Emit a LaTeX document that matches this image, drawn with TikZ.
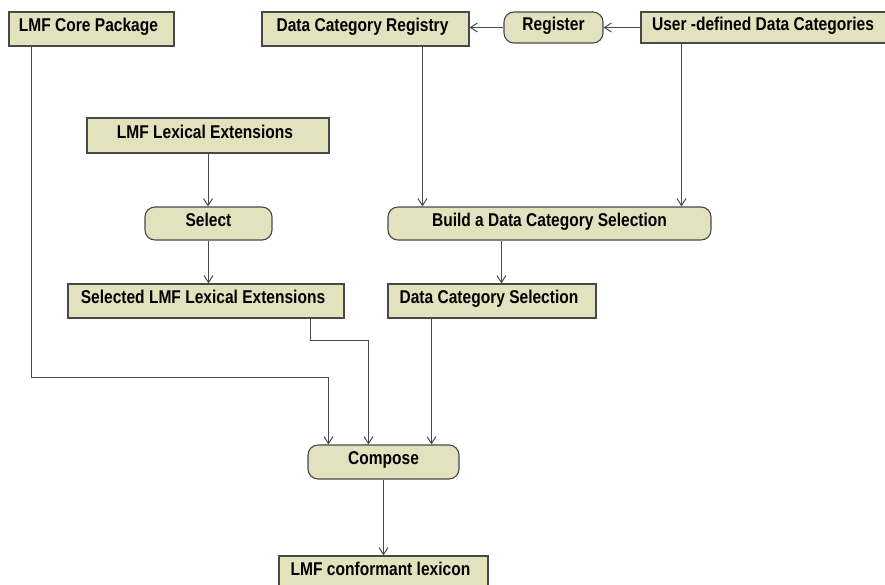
\documentclass[tikz,border=0pt]{standalone}
\usepackage{fontspec}
\setmainfont[FakeStretch=0.84]{Liberation Sans}
\usetikzlibrary{arrows.meta}
\definecolor{boxfill}{HTML}{E3E2BF}
\definecolor{boxline}{HTML}{484848}
\definecolor{conline}{HTML}{4A4A4A}
\tikzset{
  base/.style={draw=boxline, fill=boxfill, line width=1.1pt, inner sep=0pt,
    font=\fontsize{18.5}{20}\selectfont\bfseries, text=black,
    text height=11.5pt, text depth=6.5pt},
  objbox/.style={base, rectangle, execute at begin node={\hspace*{-6pt}}},
  actbox/.style={base, rectangle, rounded corners=10pt},
  conn/.style={draw=conline, line width=1pt, -{Straight Barb[length=7pt,width=9pt,line width=1pt]}}
}
\begin{document}
\begin{tikzpicture}[x=1pt,y=-1pt]
\useasboundingbox (0,0) rectangle (885,584);
\fill[white] (0,0) rectangle (885,584);

\node[objbox, minimum width=165pt, minimum height=34pt] (core) at (91.5,29) {LMF Core Package};
\node[objbox, minimum width=207pt, minimum height=34pt] (dcr) at (365.5,29) {Data Category Registry};
\node[actbox, minimum width=99pt, minimum height=31pt] (reg) at (553.5,27.5) {Register};
\node[objbox, minimum width=250pt, minimum height=31pt] (user) at (766,27.5) {User -defined Data Categories};
\node[objbox, minimum width=242pt, minimum height=35pt] (lex) at (208,135.5) {LMF Lexical Extensions};
\node[actbox, minimum width=127pt, minimum height=33pt] (select) at (208.5,223.5) {Select};
\node[objbox, minimum width=276pt, minimum height=34pt] (selected) at (206,301) {Selected LMF Lexical Extensions};
\node[actbox, minimum width=323pt, minimum height=33pt] (build) at (549.5,223.5) {Build a Data Category Selection};
\node[objbox, minimum width=208pt, minimum height=34pt] (dcs) at (492,301) {Data Category Selection};
\node[actbox, minimum width=151pt, minimum height=34pt] (compose) at (383.5,462) {Compose};
\node[objbox, minimum width=209pt, minimum height=34pt] (lexicon) at (383.5,573) {LMF conformant lexicon};

\coordinate (cin1) at ([xshift=21pt]compose.north west);
\coordinate (cin2) at ([xshift=61pt]compose.north west);
\coordinate (cin3) at ([xshift=124pt]compose.north west);
\coordinate (b1) at ([xshift=35pt]build.north west);
\coordinate (b2) at ([xshift=294pt]build.north west);
\coordinate (b3) at ([xshift=114pt]dcs.north west);

\draw[conn] (user.west) -- (reg.east);
\draw[conn] (reg.west) -- (reg.west -| dcr.east);
\draw[conn] (dcr.south -| b1) -- (b1);
\draw[conn] (user.south -| b2) -- (b2);
\draw[conn] (build.south -| b3) -- (b3);
\draw[conn] (lex.south) -- (lex.south |- select.north);
\draw[conn] (select.south) -- (select.south |- selected.north);
\draw[conn] ([xshift=23pt]core.south west) -- ++(0,331) -| (cin1);
\draw[conn] ([xshift=243pt]selected.south west) -- ++(0,22) -| (cin2);
\draw[conn] (dcs.south -| cin3) -- (cin3);
\draw[conn] (compose.south) -- (compose.south |- lexicon.north);
\end{tikzpicture}
\end{document}
